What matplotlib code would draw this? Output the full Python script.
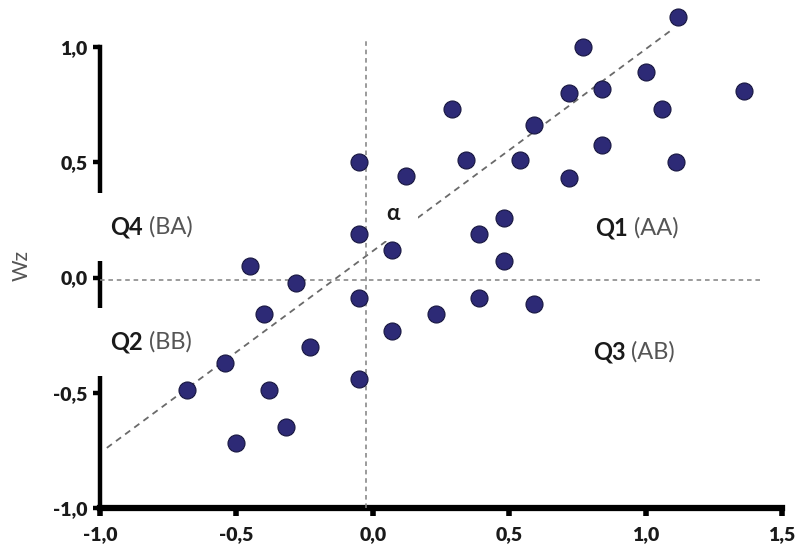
import matplotlib
matplotlib.use("Agg")
import matplotlib.pyplot as plt
import numpy as np
from matplotlib.ticker import FixedLocator, FuncFormatter

plt.rcParams['font.family'] = ['Lato', 'DejaVu Sans']

# Data
z = [1.12, 0.77, 1.00, 1.36, 0.84, 0.72, 0.29, 1.06, 0.59, -0.05,
     0.34, 0.54, 1.11, 0.84, 0.72, 0.12, 0.48, 0.39, -0.05, 0.07,
     0.48, -0.45, -0.28, -0.05, 0.39, 0.59, 0.23, -0.40, 0.07, -0.23,
     -0.54, -0.68, -0.38, -0.05, -0.32, -0.50]
wz = [1.13, 1.00, 0.89, 0.81, 0.82, 0.80, 0.73, 0.73, 0.66, 0.50,
      0.51, 0.51, 0.50, 0.575, 0.43, 0.44, 0.26, 0.19, 0.19, 0.12,
      0.07, 0.05, -0.025, -0.09, -0.09, -0.115, -0.16, -0.16, -0.23, -0.30,
      -0.37, -0.49, -0.49, -0.44, -0.65, -0.72]

slope = 0.876
intercept = 0.115
fit_x = [-0.975, 1.09]

mean_z = -0.025
mean_wz = -0.01
vline_span = [-1.0, 1.03]
hline_span = [-1.0, 1.43]

xticks = [-1.0, -0.5, 0.0, 0.5, 1.0, 1.5]
yticks = [-1.0, -0.5, 0.0, 0.5, 1.0]

quadrants = [("Q1", "(AA)", 0.814, 0.215),
             ("Q2", "(BB)", -0.963, -0.28),
             ("Q3", "(AB)", 0.806, -0.323),
             ("Q4", "(BA)", -0.963, 0.219)]
alpha_pos = (0.075, 0.28)

fig = plt.figure(figsize=(8, 5.59), dpi=100)
ax = fig.add_axes([0.125, 0.0912, 0.8525, 0.907])
ax.set_xlim(-1.0, 1.5)
ax.set_ylim(-1.0, 1.2)

# reference lines
ax.plot([mean_z, mean_z], vline_span, color='#808080', lw=1.1,
        dashes=(3, 2.5), zorder=4.5)
ax.plot(hline_span, [mean_wz, mean_wz], color='#808080', lw=1.1,
        dashes=(3, 2.5), zorder=4.5)

# regression line
fx = np.array(fit_x)
ax.plot(fx, intercept + slope * fx, color='#6a6a6a', lw=1.3,
        dashes=(3.5, 2.8), zorder=3.5)

# points
ax.scatter(z, wz, s=150, facecolor='#2d2a76', edgecolor='#17163f',
           linewidth=0.8, zorder=5, clip_on=False)

# quadrant labels
for q, lab, x, y in quadrants:
    t = ax.text(x, y, q, fontsize=17, fontweight='bold', color='#1a1a1a',
                ha='left', va='center', zorder=3, clip_on=False,
                bbox=dict(boxstyle='square,pad=0.95', fc='white', ec='none'))
    ax.annotate(" " + lab, xy=(1, 0.5), xycoords=t, fontsize=17,
                color='#555555', ha='left', va='center', zorder=3)

ax.text(alpha_pos[0], alpha_pos[1], "α", fontsize=16, fontweight='bold',
        color='#1a1a1a', ha='center', va='center', zorder=4,
        bbox=dict(boxstyle='square,pad=0.8', fc='white', ec='none'))

# axes styling
for s in ['top', 'right']:
    ax.spines[s].set_visible(False)
ax.spines['left'].set_linewidth(3.2)
ax.spines['bottom'].set_linewidth(4.5)
ax.spines['left'].set_bounds(-1.0, 1.0)
ax.spines['bottom'].set_bounds(-1.0, 1.5)
ax.spines['left'].set_zorder(2.5)

ax.xaxis.set_major_locator(FixedLocator(xticks))
ax.yaxis.set_major_locator(FixedLocator(yticks))
fmt = FuncFormatter(lambda v, p: f"{v:.1f}".replace('.', ','))
ax.xaxis.set_major_formatter(fmt)
ax.yaxis.set_major_formatter(fmt)
ax.tick_params(axis='y', direction='out', length=5, width=3.2, pad=4,
               labelsize=14, colors='black')
ax.tick_params(axis='x', direction='out', length=6, width=4.0, pad=7,
               labelsize=14, colors='black')
for lbl in ax.get_xticklabels() + ax.get_yticklabels():
    lbl.set_fontweight('heavy')
    lbl.set_color('#1a1a1a')

ax.set_ylabel("Wz", fontsize=15, color='#555555')
ax.yaxis.set_label_coords(-0.100, 0.479)

fig.savefig("out.png", dpi=100, facecolor='white')
